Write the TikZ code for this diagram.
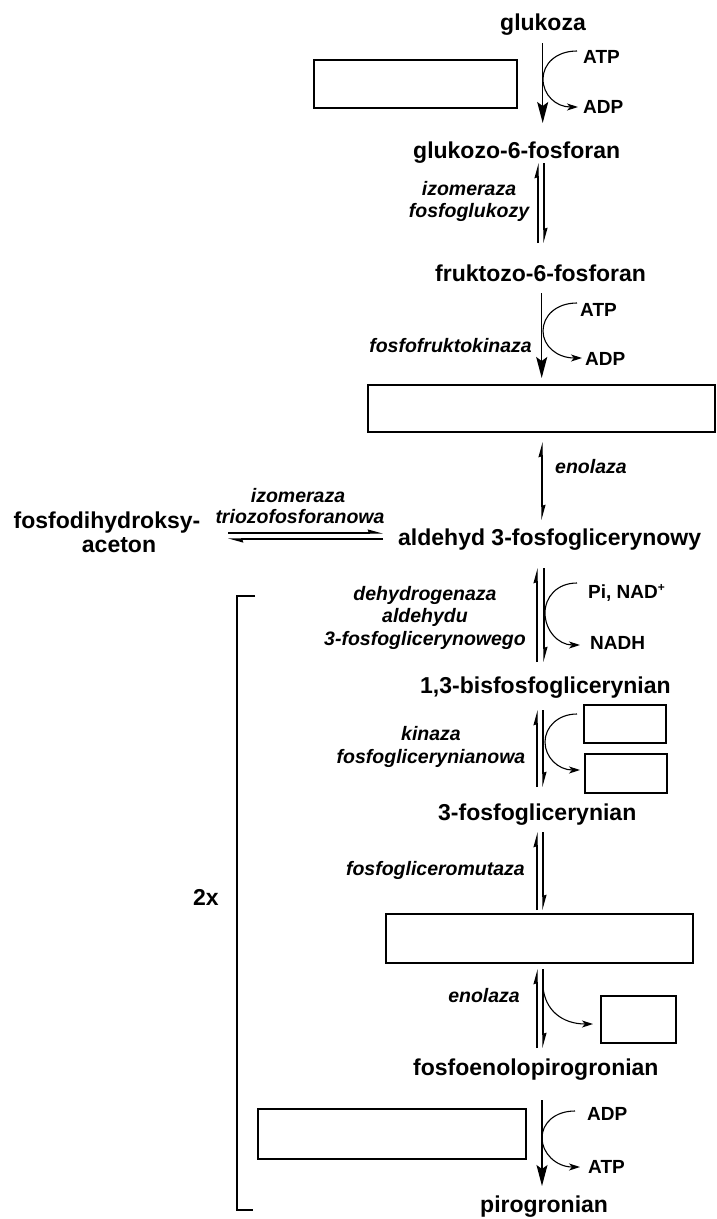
\documentclass[tikz,border=0pt]{standalone}
\usepackage{fontspec}
\setmainfont{Liberation Sans}
\usetikzlibrary{arrows.meta}
\begin{document}
\begin{tikzpicture}[x=1pt,y=-1pt,
  mol/.style={font=\fontsize{23}{26}\selectfont\bfseries, inner sep=0pt, anchor=base west},
  enz/.style={font=\fontsize{19.5}{22}\selectfont\bfseries\itshape, inner sep=0pt},
  cof/.style={font=\fontsize{19}{22}\selectfont\bfseries, inner sep=0pt, anchor=base west},
  blank/.style={draw, line width=1.2pt, inner sep=0pt},
  fwd/.style={line width=1.3pt, -{Stealth[length=21pt,width=11pt,inset=4pt]}},
  harp/.style={line width=1.2pt, -{Stealth[left,length=13pt,width=7pt,inset=1pt]}},
  side/.style={line width=1.1pt, -{Stealth[length=11pt,width=7pt,inset=3pt]}},
  brack/.style={line width=1.2pt}
]
\useasboundingbox (0,0) rectangle (717,1219);

% molecules
\node[mol] (glu) at (500,30.5) {glukoza};
\node[mol] (g6p) at (413,158) {glukozo-6-fosforan};
\node[mol] (f6p) at (435,281) {fruktozo-6-fosforan};
\node[mol] (gap) at (398,545) {aldehyd 3-fosfoglicerynowy};
\node[mol, anchor=base] (dhap1) at (107,528) {fosfodihydroksy-};
\node[mol, anchor=base] (dhap2) at (119,552) {aceton};
\node[mol] (bpg) at (420,693) {1,3-bisfosfoglicerynian};
\node[mol] (pg3) at (438,820) {3-fosfoglicerynian};
\node[mol] (pep) at (413,1075) {fosfoenolopirogronian};
\node[mol] (pyr) at (480,1212) {pirogronian};
\node[mol] (twox) at (193,905) {2x};

% cofactors
\node[cof] (atp1) at (583,63) {ATP};
\node[cof] (adp1) at (583,113) {ADP};
\node[cof] (atp2) at (580,316) {ATP};
\node[cof] (adp2) at (585,365) {ADP};
\node[cof] (nad) at (588,598) {Pi, NAD\raisebox{7pt}{\fontsize{12}{12}\selectfont +}};
\node[cof] (nadh) at (590,649) {NADH};
\node[cof] (adp3) at (587,1120) {ADP};
\node[cof] (atp3) at (588,1173) {ATP};

% enzymes
\node[enz, anchor=base] (e1a) at (469,195) {izomeraza};
\node[enz, anchor=base] (e1b) at (469,217) {fosfoglukozy};
\node[enz, anchor=base east] (e2) at (532,352) {fosfofruktokinaza};
\node[enz, anchor=base west] (e3) at (555,473) {enolaza};
\node[enz, anchor=base] (e4a) at (298,502) {izomeraza};
\node[enz, anchor=base] (e4b) at (300,523) {triozofosforanowa};
\node[enz, anchor=base] (e5a) at (425,600) {dehydrogenaza};
\node[enz, anchor=base] (e5b) at (425,622) {aldehydu};
\node[enz, anchor=base] (e5c) at (425,645) {3-fosfoglicerynowego};
\node[enz, anchor=base] (e6a) at (431,740) {kinaza};
\node[enz, anchor=base] (e6b) at (431,763) {fosfoglicerynianowa};
\node[enz, anchor=base east] (e7) at (525,875) {fosfogliceromutaza};
\node[enz, anchor=base east] (e8) at (520,1002) {enolaza};

% blank boxes
\node[blank, minimum width=203pt, minimum height=48pt] (b1) at (415.5,84) {};
\node[blank, minimum width=347pt, minimum height=47pt] (b2) at (541.5,408.5) {};
\node[blank, minimum width=307pt, minimum height=49pt] (b3) at (539.5,938.5) {};
\node[blank, minimum width=82pt, minimum height=38pt] (bA) at (625,724) {};
\node[blank, minimum width=82pt, minimum height=39pt] (bB) at (626,773.5) {};
\node[blank, minimum width=75pt, minimum height=47pt] (bC) at (638.5,1019.5) {};
\node[blank, minimum width=268pt, minimum height=50pt] (bD) at (392,1134) {};

% coordinates for arrows
\coordinate (a1s) at (542.7,43);  \coordinate (a1e) at (542.7,123);
\coordinate (q1l1) at (538,243); \coordinate (q1l2) at (538,163);
\coordinate (q1r1) at (544,163); \coordinate (q1r2) at (544,243);
\coordinate (a2s) at (541.7,293); \coordinate (a2e) at (541.7,378);
\coordinate (en1m) at (542,481); \coordinate (en1t) at (542,442); \coordinate (en1b) at (542,520);
\coordinate (h1s) at (228,533); \coordinate (h1e) at (383,533);
\coordinate (h2s) at (383,539); \coordinate (h2e) at (228,539);
\coordinate (q2l1) at (537,662); \coordinate (q2l2) at (537,568);
\coordinate (q2r1) at (544,568); \coordinate (q2r2) at (544,662);
\coordinate (q3l1) at (537,787); \coordinate (q3l2) at (537,710);
\coordinate (q3r1) at (543,710); \coordinate (q3r2) at (543,787);
\coordinate (q4l1) at (537,910); \coordinate (q4l2) at (537,832);
\coordinate (q4r1) at (543,832); \coordinate (q4r2) at (543,910);
\coordinate (q5l1) at (537,1048); \coordinate (q5l2) at (537,969);
\coordinate (q5r1) at (543,969); \coordinate (q5r2) at (543,1048);
\coordinate (a3s) at (542,1100); \coordinate (a3e) at (542,1186);

% main arrows
\draw[fwd] (a1s) -- (a1e);
\draw[fwd] (a2s) -- (a2e);
\draw[fwd] (a3s) -- (a3e);
% equilibria
\draw[harp] (q1l1) -- (q1l2); \draw[harp] (q1r1) -- (q1r2);
\draw[harp] (en1m) -- (en1t); \draw[harp] (en1m) -- (en1b);
\draw[harp] (h1s) -- (h1e); \draw[harp] (h2s) -- (h2e);
\draw[harp] (q2l1) -- (q2l2); \draw[harp] (q2r1) -- (q2r2);
\draw[harp] (q3l1) -- (q3l2); \draw[harp] (q3r1) -- (q3r2);
\draw[harp] (q4l1) -- (q4l2); \draw[harp] (q4r1) -- (q4r2);
\draw[harp] (q5l1) -- (q5l2); \draw[harp] (q5r1) -- (q5r2);

% side curves
\draw[side] (577,51) .. controls (556,51) and (543,64) .. (543,79) .. controls (543,95) and (556,107) .. (578,107);
\draw[side] (577,303) .. controls (556,303) and (543,316) .. (543,331) .. controls (543,346) and (557,358) .. (582,358);
\draw[side] (577,583) .. controls (557,583) and (545,597) .. (545,613) .. controls (545,630) and (558,645) .. (580,645);
\draw[side] (577,714) .. controls (558,714) and (545,727) .. (545,742) .. controls (545,757) and (558,770) .. (580,770);
\draw[side] (543,987) .. controls (545,1010) and (562,1024) .. (593,1024);
\draw[side] (575,1111) .. controls (555,1111) and (542,1123) .. (542,1138) .. controls (542,1153) and (556,1167) .. (580,1167);

% bracket
\draw[brack] (255,596) -- (237,596) -- (237,1210) -- (253,1210);
\end{tikzpicture}
\end{document}
